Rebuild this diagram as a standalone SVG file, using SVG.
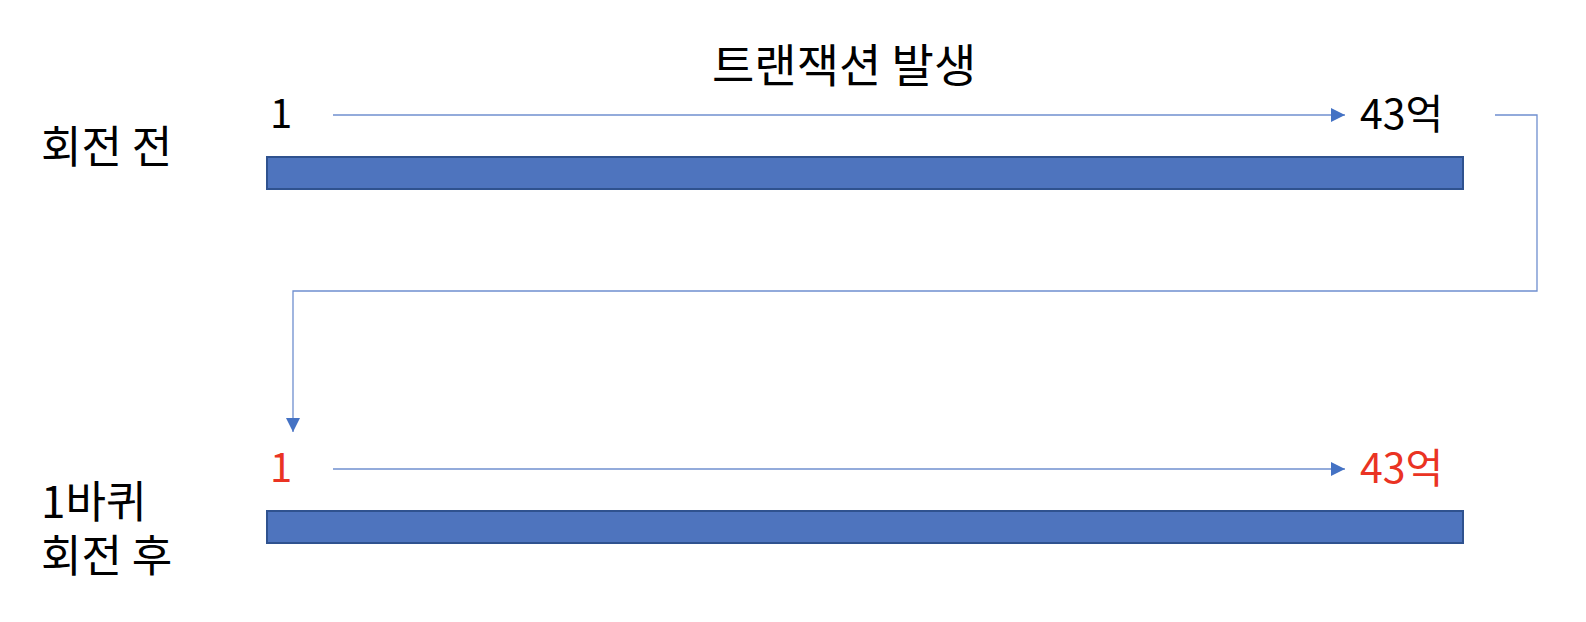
<svg xmlns="http://www.w3.org/2000/svg" width="1586" height="622" viewBox="0 0 1586 622">
<style>
text{font-family:"Noto Sans CJK KR","Noto Sans",sans-serif;font-size:40px;fill:#000}
.lbl{font-size:44px}
.ttl{font-size:46px}
.end{font-size:41px}
.red{fill:#EA3323}
.bar{fill:#4E74BE;stroke:#2F528F;stroke-width:2}
.conn{fill:none;stroke:#6F8FCF;stroke-width:1.3}
</style>
<defs>
<marker id="ah" viewBox="0 0 14 14" refX="14" refY="7" markerWidth="14" markerHeight="14" markerUnits="userSpaceOnUse" orient="auto">
<path d="M0,0 L14,7 L0,14 Z" fill="#4472C4"/>
</marker>
</defs>
<rect width="1586" height="622" fill="#fff"/>
<g id="title"><text class="ttl" x="712" y="82">트랜잭션 발생</text></g>
<g id="label-before"><text class="lbl" x="41" y="163">회전 전</text></g>
<g id="label-after"><text class="lbl" x="41" y="518"><tspan x="41" y="518">1바퀴</tspan><tspan x="41" y="572">회전 후</tspan></text></g>
<g id="bar-top"><rect class="bar" x="267" y="157" width="1196" height="32"/></g>
<g id="bar-bottom"><rect class="bar" x="267" y="511" width="1196" height="32"/></g>
<g id="start-top"><text x="270" y="128">1</text></g>
<g id="end-top"><text class="end" x="1360" y="129">43억</text></g>
<g id="start-bottom"><text class="red" x="270" y="482">1</text></g>
<g id="end-bottom"><text class="red end" x="1360" y="483">43억</text></g>
<g id="connectors">
<line class="conn" x1="333" y1="115" x2="1345" y2="115" marker-end="url(#ah)"/>
<line class="conn" x1="333" y1="469" x2="1345" y2="469" marker-end="url(#ah)"/>
<polyline class="conn" points="1495,115 1537,115 1537,291 293,291 293,432" marker-end="url(#ah)"/>
</g>
</svg>
